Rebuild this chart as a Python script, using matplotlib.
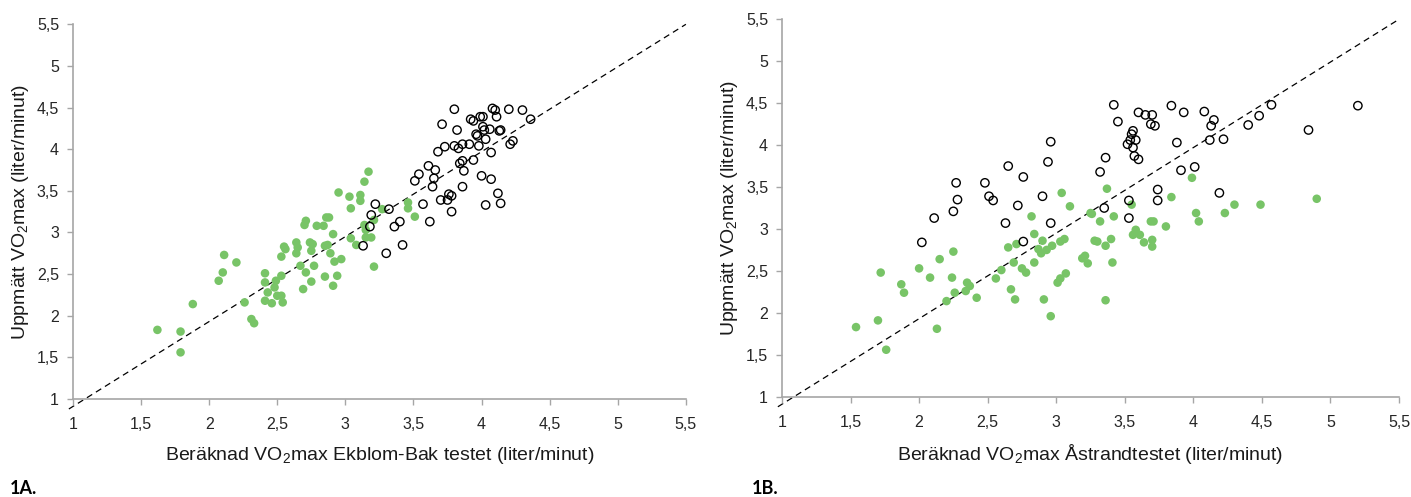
import matplotlib
matplotlib.use("Agg")
import matplotlib.pyplot as plt
import numpy as np

# data
# 1A: Ekblom-Bak test (estimated) vs measured VO2max
ekb_green_x = [1.62, 1.79, 1.79, 1.88, 2.07, 2.10, 2.11, 2.20, 2.26, 2.31, 2.33, 2.41, 2.41, 2.41,
               2.43, 2.46, 2.48, 2.49, 2.50, 2.53, 2.54, 2.53, 2.53, 2.55, 2.56, 2.64, 2.64, 2.65,
               2.67, 2.69, 2.70, 2.71, 2.71, 2.75, 2.74, 2.75, 2.76, 2.77, 2.79, 2.84, 2.85, 2.85,
               2.86, 2.88, 2.87, 2.89, 2.91, 2.91, 2.92, 2.94, 2.97, 2.95, 3.03, 3.04, 3.04, 3.08,
               3.11, 3.11, 3.14, 3.17, 3.14, 3.15, 3.15, 3.19, 3.21, 3.21, 3.27, 3.46, 3.46, 3.51]
ekb_green_y = [1.83, 1.81, 1.56, 2.14, 2.42, 2.52, 2.73, 2.64, 2.16, 1.96, 1.91, 2.51, 2.18, 2.40,
               2.28, 2.15, 2.34, 2.42, 2.24, 2.24, 2.16, 2.48, 2.71, 2.83, 2.80, 2.88, 2.75, 2.82,
               2.60, 2.32, 3.09, 3.14, 2.52, 2.41, 2.88, 2.78, 2.86, 2.60, 3.08, 3.08, 2.47, 2.84,
               3.18, 3.18, 2.85, 2.75, 2.36, 2.98, 2.65, 2.48, 2.68, 3.48, 3.43, 3.29, 2.93, 2.85,
               3.45, 3.38, 3.61, 3.73, 3.09, 3.03, 2.94, 2.94, 3.15, 2.59, 3.28, 3.36, 3.29, 3.19]
ekb_open_x = [3.13, 3.18, 3.19, 3.22, 3.30, 3.32, 3.36, 3.40, 3.42, 3.51, 3.54, 3.57, 3.61, 3.62,
              3.64, 3.65, 3.66, 3.68, 3.70, 3.71, 3.73, 3.75, 3.76, 3.78, 3.78, 3.80, 3.80, 3.82,
              3.83, 3.84, 3.86, 3.86, 3.87, 3.86, 3.91, 3.92, 3.94, 3.94, 3.96, 3.97, 3.98, 3.99,
              4.01, 4.00, 4.01, 4.02, 4.03, 4.03, 4.06, 4.07, 4.07, 4.08, 4.10, 4.11, 4.12, 4.13,
              4.14, 4.14, 4.20, 4.21, 4.23, 4.30, 4.36]
ekb_open_y = [2.84, 3.07, 3.21, 3.34, 2.75, 3.28, 3.07, 3.13, 2.85, 3.62, 3.70, 3.34, 3.80, 3.13,
              3.55, 3.65, 3.75, 3.97, 3.39, 4.30, 4.03, 3.39, 3.46, 3.44, 3.25, 4.48, 4.04, 4.23,
              4.01, 3.83, 4.06, 3.55, 3.74, 3.86, 4.06, 4.36, 4.34, 3.87, 4.18, 4.16, 4.04, 4.39,
              4.39, 3.68, 4.27, 4.23, 4.12, 3.33, 4.24, 3.96, 3.64, 4.49, 4.47, 4.39, 3.47, 4.22,
              3.35, 4.23, 4.48, 4.06, 4.10, 4.47, 4.36]

# 1B: Astrand test (estimated) vs measured VO2max
ast_green_x = [1.54, 1.70, 1.72, 1.76, 1.87, 1.89, 2.00, 2.08, 2.13, 2.15, 2.20, 2.24, 2.25, 2.26,
               2.34, 2.35, 2.37, 2.42, 2.56, 2.60, 2.65, 2.67, 2.69, 2.70, 2.71, 2.75, 2.78, 2.82,
               2.84, 2.84, 2.87, 2.89, 2.90, 2.91, 2.93, 2.96, 2.97, 3.01, 3.03, 3.03, 3.04, 3.06,
               3.07, 3.10, 3.19, 3.21, 3.23, 3.25, 3.26, 3.28, 3.30, 3.32, 3.36, 3.37, 3.36, 3.40,
               3.41, 3.42, 3.55, 3.56, 3.58, 3.61, 3.64, 3.69, 3.71, 3.70, 3.70, 3.80, 3.84, 3.99,
               4.02, 4.04, 4.23, 4.30, 4.49, 4.90]
ast_green_y = [1.83, 1.91, 2.48, 1.56, 2.34, 2.24, 2.53, 2.42, 1.81, 2.64, 2.14, 2.42, 2.73, 2.24,
               2.26, 2.36, 2.32, 2.18, 2.41, 2.51, 2.78, 2.28, 2.60, 2.16, 2.82, 2.53, 2.48, 3.15,
               2.60, 2.94, 2.76, 2.71, 2.86, 2.16, 2.75, 1.96, 2.80, 2.36, 2.41, 2.85, 3.43, 2.88,
               2.47, 3.27, 2.65, 2.68, 2.59, 3.19, 3.18, 2.86, 2.85, 3.09, 2.80, 3.48, 2.15, 2.88,
               2.60, 3.15, 3.29, 2.93, 2.99, 2.93, 2.84, 3.09, 3.09, 2.87, 2.79, 3.03, 3.38, 3.61,
               3.19, 3.09, 3.19, 3.29, 3.29, 3.36]
ast_open_x = [2.02, 2.11, 2.25, 2.27, 2.28, 2.48, 2.51, 2.54, 2.63, 2.65, 2.72, 2.76, 2.76, 2.90,
              2.94, 2.96, 2.96, 3.32, 3.35, 3.36, 3.42, 3.45, 3.52, 3.53, 3.53, 3.54, 3.55, 3.56,
              3.56, 3.57, 3.58, 3.60, 3.60, 3.65, 3.69, 3.70, 3.72, 3.74, 3.74, 3.84, 3.88, 3.91,
              3.93, 4.01, 4.08, 4.12, 4.13, 4.15, 4.19, 4.22, 4.40, 4.48, 4.57, 4.84, 5.20]
ast_open_y = [2.84, 3.13, 3.21, 3.55, 3.35, 3.55, 3.39, 3.34, 3.07, 3.75, 3.28, 2.85, 3.62, 3.39,
              3.80, 3.07, 4.04, 3.68, 3.25, 3.85, 4.48, 4.28, 4.01, 3.34, 3.13, 4.06, 4.13, 4.17,
              3.97, 3.87, 4.06, 3.83, 4.39, 4.36, 4.25, 4.36, 4.23, 3.47, 3.34, 4.47, 4.03, 3.70,
              4.39, 3.74, 4.40, 4.06, 4.23, 4.30, 3.43, 4.07, 4.24, 4.35, 4.48, 4.18, 4.47]

# dashed reference line (runs a little past the axes corner)
ref_x = [0.97, 5.5]
ref_y = [0.88, 5.5]

ticks = np.arange(1, 5.51, 0.5)
tick_labels = ['1', '1,5', '2', '2,5', '3', '3,5', '4', '4,5', '5', '5,5']

green = '#78c467'
grey = '#a6a6a6'

plt.rcParams['font.family'] = ['Liberation Sans', 'DejaVu Sans']
plt.rcParams['mathtext.default'] = 'regular'


# draw one scatter panel
def draw_panel(ax, gx, gy, ox, oy, xlabel):
    ax.plot(ref_x, ref_y, color='black', linewidth=0.9, dashes=(5, 3.5), clip_on=False, zorder=1)
    ax.scatter(gx, gy, s=38, color=green, edgecolors='none', zorder=3, clip_on=False)
    ax.scatter(ox, oy, s=36, facecolors='none', edgecolors='black', linewidths=1.0, zorder=4, clip_on=False)

    ax.set_xlim(1, 5.5)
    ax.set_ylim(1, 5.5)
    ax.set_xticks(ticks)
    ax.set_yticks(ticks)
    ax.set_xticklabels(tick_labels)
    ax.set_yticklabels(tick_labels)

    for side in ['top', 'right']:
        ax.spines[side].set_visible(False)
    for side in ['left', 'bottom']:
        ax.spines[side].set_color(grey)
        ax.spines[side].set_linewidth(1.2)
    ax.tick_params(direction='out', length=4, width=1, color=grey,
                   labelsize=11.5, labelcolor='#262626')
    ax.tick_params(axis='x', pad=9)
    ax.tick_params(axis='y', pad=6)

    ax.set_xlabel(xlabel, fontsize=14, color='#1a1a1a', labelpad=9)
    ax.set_ylabel('Uppmätt VO$_2$max (liter/minut)', fontsize=14, color='#1a1a1a', labelpad=4)


fig = plt.figure(figsize=(14.11, 4.97), dpi=100)
ax1 = fig.add_axes([0.0517, 0.1972, 0.4344, 0.7539])
ax2 = fig.add_axes([0.5542, 0.2018, 0.4373, 0.7594])

draw_panel(ax1, ekb_green_x, ekb_green_y, ekb_open_x, ekb_open_y,
           'Beräknad VO$_2$max Ekblom-Bak testet (liter/minut)')
draw_panel(ax2, ast_green_x, ast_green_y, ast_open_x, ast_open_y,
           'Beräknad VO$_2$max Åstrandtestet (liter/minut)')

# panel tags
fig.text(0.007, 0.006, '1A.', fontsize=13, fontweight='bold', family=['Lato', 'DejaVu Sans'])
fig.text(0.533, 0.006, '1B.', fontsize=13, fontweight='bold', family=['Lato', 'DejaVu Sans'])

fig.savefig('out.png', dpi=100)
